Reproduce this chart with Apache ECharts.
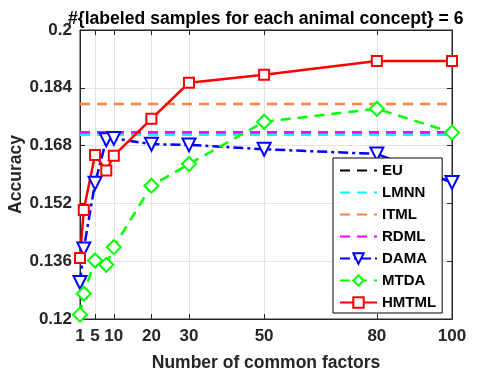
<!DOCTYPE html>
<html>
<head>
<meta charset="utf-8">
<script src="https://cdn.jsdelivr.net/npm/echarts@6/dist/echarts.min.js"></script>
<style>
  html, body { margin: 0; padding: 0; background: #fff; }
  #chart { width: 499px; height: 379px; }
</style>
</head>
<body>
<div id="chart"></div>
<script>
// data
const factors = [1, 2, 5, 8, 10, 20, 30, 50, 80, 100]
const xTicks = [1, 5, 10, 20, 30, 50, 80, 100]
const yTicks = [0.12, 0.136, 0.152, 0.168, 0.184, 0.2]
const euAcc = 0.1710
const lmnnAcc = 0.1710
const itmlAcc = 0.1795
const rdmlAcc = 0.1717
const damaAcc = [0.1301, 0.1394, 0.1576, 0.1696, 0.1700, 0.1684, 0.1682, 0.1670, 0.1657, 0.1578]
const mtdaAcc = [0.1212, 0.1270, 0.1362, 0.1350, 0.1399, 0.1569, 0.1629, 0.1746, 0.1782, 0.1716]
const hmtmlAcc = [0.1369, 0.1502, 0.1654, 0.1611, 0.1652, 0.1754, 0.1854, 0.1876, 0.1914, 0.1914]

const FONT = '"Liberation Sans", Arial, sans-serif'
const TXT = '#262626'

const chart = echarts.init(document.getElementById('chart'))

// flat baseline across the whole x range
const flat = v => [[xTicks[0], v], [xTicks[xTicks.length - 1], v]]
const pairs = arr => factors.map((x, i) => [x, arr[i]])

const baseLine = (name, value, color) => ({
  name, type: 'line', data: flat(value), symbol: 'none',
  lineStyle: { color, width: 2.5, type: [10, 7] },
  itemStyle: { color },
  z: 2
})

const markLine = (name, data, color, symbol, size, lineType, rotate) => ({
  name, type: 'line', data: pairs(data),
  symbol, symbolSize: size, symbolRotate: rotate || 0,
  lineStyle: { color, width: 2.5, type: lineType },
  itemStyle: { color, borderColor: color, borderWidth: 2 },
  z: 3
})

// baselines have no marker, so hide the legend dot
const noDot = name => ({ name, itemStyle: { opacity: 0 } })

const option = {
  animation: false,
  backgroundColor: '#fff',
  title: {
    text: '#{labeled samples for each animal concept} = 6',
    left: 63, top: 5,
    textStyle: { fontFamily: FONT, fontSize: 17.6, fontWeight: 'bold', color: '#000' }
  },
  grid: {
    left: 80, right: 47, top: 30, bottom: 60, outerBoundsMode: 'none',
    show: true, borderColor: TXT, borderWidth: 1
  },
  legend: {
    orient: 'vertical', left: 333, top: 158,
    backgroundColor: '#fff', borderColor: '#000', borderWidth: 1,
    padding: [5, 6, 3, 6],
    itemWidth: 37, itemHeight: 13, itemGap: 7,
    textStyle: { fontFamily: FONT, fontSize: 15, fontWeight: 'bold', color: '#000' },
    data: [noDot('EU'), noDot('LMNN'), noDot('ITML'), noDot('RDML'), 'DAMA', 'MTDA', 'HMTML']
  },
  xAxis: [{
    type: 'value', min: 1, max: 100,
    name: 'Number of common factors', nameLocation: 'middle', nameGap: 35,
    nameTextStyle: { fontFamily: FONT, fontSize: 17.5, fontWeight: 'bold', color: TXT },
    axisLine: { show: true, lineStyle: { color: TXT } },
    axisTick: { inside: true, length: 5, customValues: xTicks, lineStyle: { color: TXT } },
    axisLabel: { customValues: xTicks, margin: 9, fontFamily: FONT, fontSize: 17, fontWeight: 'bold', color: TXT },
    splitLine: { show: true, lineStyle: { color: '#e3e3e3' } }
  }, {
    type: 'value', min: 1, max: 100, position: 'top',
    axisLine: { show: true, lineStyle: { color: TXT } },
    axisTick: { inside: true, length: 5, customValues: xTicks, lineStyle: { color: TXT } },
    axisLabel: { show: false }, splitLine: { show: false }
  }],
  yAxis: [{
    type: 'value', min: 0.12, max: 0.2,
    name: 'Accuracy', nameLocation: 'middle', nameGap: 55, nameRotate: 90,
    nameMoveOverlap: false,
    nameTextStyle: { fontFamily: FONT, fontSize: 17.5, fontWeight: 'bold', color: TXT },
    axisLine: { show: true, lineStyle: { color: TXT } },
    axisTick: { inside: true, length: 5, customValues: yTicks, lineStyle: { color: TXT } },
    axisLabel: { customValues: yTicks, margin: 8, fontFamily: FONT, fontSize: 17, fontWeight: 'bold', color: TXT },
    splitLine: { show: true, lineStyle: { color: '#e3e3e3' } }
  }, {
    type: 'value', min: 0.12, max: 0.2, position: 'right',
    axisLine: { show: true, lineStyle: { color: TXT } },
    axisTick: { inside: true, length: 5, customValues: yTicks, lineStyle: { color: TXT } },
    axisLabel: { show: false }, splitLine: { show: false }
  }],
  series: [
    baseLine('EU', euAcc, '#000000'),
    baseLine('LMNN', lmnnAcc, '#00ffff'),
    baseLine('ITML', itmlAcc, '#ff8040'),
    baseLine('RDML', rdmlAcc, '#ff00ff'),
    markLine('DAMA', damaAcc, '#0000ff', 'emptyTriangle', 13, [10, 4, 3, 4], 180),
    markLine('MTDA', mtdaAcc, '#00ff00', 'emptyDiamond', 14, [10, 7]),
    markLine('HMTML', hmtmlAcc, '#ff0000', 'emptyRect', 10, 'solid')
  ]
}

chart.setOption(option)
</script>
</body>
</html>
